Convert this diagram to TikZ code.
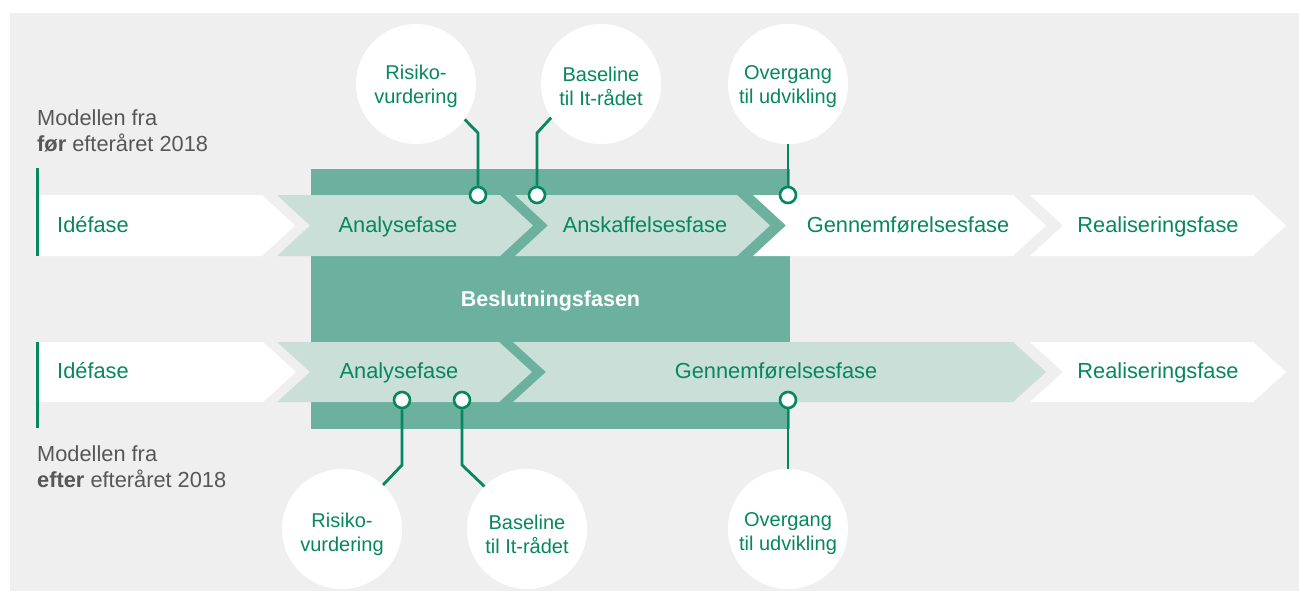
\documentclass[tikz,border=0pt]{standalone}
\usepackage{fontspec}
\setmainfont{Liberation Sans}
\definecolor{bgc}{HTML}{EFEFEF}
\definecolor{boxc}{HTML}{6BB19E}
\definecolor{lightc}{HTML}{C9DFD8}
\definecolor{ggreen}{HTML}{07875F}
\definecolor{greytext}{HTML}{575757}
\newcommand\chevnotch[5]{\fill[#1] (#2,#4) -- (#3,#4) -- ({#3+33},{(#4+#5)/2}) -- (#3,#5) -- (#2,#5) -- ({#2+33},{(#4+#5)/2}) -- cycle;}
\newcommand\chevfirst[5]{\fill[#1] (#2,#4) -- (#3,#4) -- ({#3+33},{(#4+#5)/2}) -- (#3,#5) -- (#2,#5) -- cycle;}
\tikzset{
  phasetext/.style={text=ggreen, font=\fontsize{21.8}{24}\selectfont, inner sep=0pt, anchor=base},
  bubble/.style={circle, fill=white, minimum size=120pt, inner sep=0pt},
  bubtext/.style={align=center, text=ggreen, inner sep=0pt, font=\fontsize{20}{24}\selectfont},
  dot/.style={circle, draw=ggreen, line width=2.6pt, fill=white, minimum size=16pt, inner sep=0pt},
  link/.style={draw=ggreen, line width=2.8pt},
  rowbar/.style={draw=ggreen, line width=3pt},
  lbl/.style={text=greytext, font=\fontsize{21.8}{26}\selectfont, inner sep=0pt, anchor=base west},
}
\begin{document}
\begin{tikzpicture}[x=1pt,y=-1pt]
\useasboundingbox (0,0) rectangle (1299,594);
\fill[bgc] (10,13) rectangle (1299,591);
% decision box
\fill[boxc] (311,169) rectangle (790,429);
% row 1
\chevfirst{white}{37}{262}{195}{256}
\chevnotch{lightc}{277}{500}{195}{256}
\chevnotch{lightc}{515}{737}{195}{256}
\chevnotch{white}{753}{1013}{195}{256}
\chevnotch{white}{1030}{1253}{195}{256}
% row 2
\chevfirst{white}{37}{263}{342}{402}
\chevnotch{lightc}{277}{499}{342}{402}
\chevnotch{lightc}{513}{1013}{342}{402}
\chevnotch{white}{1030}{1253}{342}{402}
% row bars
\draw[rowbar] (37,168) -- (37,256);
\draw[rowbar] (37,342) -- (37,428);
% phase labels
\node[phasetext, anchor=base west] (ide1) at (57,232) {Idéfase};
\node[phasetext] (ana1) at (398,232) {Analysefase};
\node[phasetext] (ansk1) at (645,232) {Anskaffelsesfase};
\node[phasetext] (genn1) at (908,232) {Gennemførelsesfase};
\node[phasetext] (real1) at (1158,232) {Realiseringsfase};
\node[phasetext, anchor=base west] (ide2) at (57,378) {Idéfase};
\node[phasetext] (ana2) at (399,378) {Analysefase};
\node[phasetext] (genn2) at (776,378) {Gennemførelsesfase};
\node[phasetext] (real2) at (1158,378) {Realiseringsfase};
\node[text=white, font=\bfseries\fontsize{21.5}{24}\selectfont, inner sep=0pt, anchor=base] (besl) at (550.5,306) {Beslutningsfasen};
% left labels
\node[lbl] (m1a) at (37,125) {Modellen fra};
\node[lbl] (m1b) at (37,151) {\textbf{før} efteråret 2018};
\node[lbl] (m2a) at (37,461) {Modellen fra};
\node[lbl] (m2b) at (37,487) {\textbf{efter} efteråret 2018};
% bubbles
\node[bubble] (rtop) at (416,84) {};
\node[bubble] (btop) at (601,84) {};
\node[bubble] (otop) at (788,84) {};
\node[bubble] (rbot) at (342,529) {};
\node[bubble] (bbot) at (527,529) {};
\node[bubble] (obot) at (788,529) {};
\node[bubtext] (rtopt) at (416,86) {Risiko-\\vurdering};
\node[bubtext] (btopt) at (601,86) {Baseline\\til It-rådet};
\node[bubtext] (otopt) at (788,86.5) {Overgang\\til udvikling};
\node[bubtext] (rbott) at (342,534) {Risiko-\\vurdering};
\node[bubtext] (bbott) at (527,534) {Baseline\\til It-rådet};
\node[bubtext] (obott) at (788,533.5) {Overgang\\til udvikling};
% dots
\node[dot] (d1) at (478,195) {};
\node[dot] (d2) at (537,195) {};
\node[dot] (d3) at (788,195) {};
\node[dot] (d4) at (402,400) {};
\node[dot] (d5) at (462,400) {};
\node[dot] (d6) at (788,400) {};
% connectors
\draw[link] (rtop.-36) -- (478,133) -- (d1.north);
\draw[link] (btop.-146) -- (537,133) -- (d2.north);
\draw[link] (otop.south) -- (d3.north);
\draw[link] (d4.south) -- (402,465) -- (rbot.47);
\draw[link] (d5.south) -- (462,465) -- (bbot.135);
\draw[link] (d6.south) -- (obot.north);
\end{tikzpicture}
\end{document}
